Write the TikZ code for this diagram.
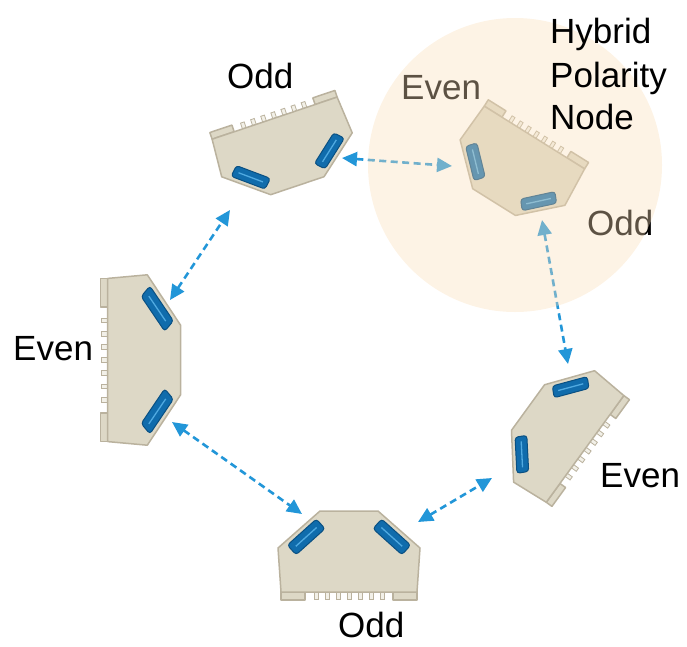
\documentclass[tikz,border=0pt]{standalone}
\usepackage{fontspec}
\setmainfont{Liberation Sans}
\usetikzlibrary{arrows.meta,calc}
\definecolor{modfill}{RGB}{221,216,198}
\definecolor{modedge}{RGB}{186,178,158}
\definecolor{pinfill}{RGB}{242,240,232}
\definecolor{padfill}{RGB}{16,108,172}
\definecolor{padedge}{RGB}{10,80,130}
\definecolor{padhi}{RGB}{80,170,225}
\definecolor{linkblue}{RGB}{34,150,216}
\definecolor{halo}{RGB}{250,222,184}
\tikzset{
  modbody/.style={fill=modfill, draw=modedge, line width=1.5pt, line join=round},
  modtooth/.style={fill=pinfill, draw=modedge, line width=0.8pt},
  padbox/.style={fill=padfill, draw=padedge, line width=1pt, rounded corners=3pt},
  padline/.style={draw=padhi, line width=1.3pt},
  link/.style={draw=linkblue, line width=2.6pt, dash pattern=on 7pt off 4.5pt,
    {Triangle[length=15pt,width=14pt]}-{Triangle[length=15pt,width=14pt]}},
  lbl/.style={inner sep=0pt, anchor=base west, font=\fontsize{35}{42}\selectfont},
  pics/module/.style={code={
    \draw[modbody] (-68,37) rectangle (-44,45);
    \draw[modbody] (44,37) rectangle (68,45);
    \foreach \i in {0,...,6} {\draw[modtooth] ({-35+11*\i},37) rectangle ({-31+11*\i},44);}
    \draw[modbody] (-29,-44) -- (29,-44) -- (71,-7) -- (68,37) -- (-68,37) -- (-71,-7) -- cycle;
    \begin{scope}[shift={(-42.8,-18.1)}, rotate=42]
      \draw[padbox] (-19.5,-6.5) rectangle (19.5,6.5);
      \draw[padline] (-14,0) -- (14,0);
    \end{scope}
    \begin{scope}[shift={(42.8,-18.1)}, rotate=-42]
      \draw[padbox] (-19.5,-6.5) rectangle (19.5,6.5);
      \draw[padline] (-14,0) -- (14,0);
    \end{scope}
  }}
}
\begin{document}
\begin{tikzpicture}[x=1pt,y=-1pt]
\useasboundingbox (0,0) rectangle (687,646);
% modules
\pic (modA) [shift={(285,149)}, rotate=198.6, xscale=0.97, yscale=0.88] {module};
\pic (modL) [shift={(141,360)}, rotate=-90, xscale=1.2, yscale=0.9] {module};
\pic (modB) [shift={(349,555)}] {module};
\pic (modR) [shift={(559,430)}, rotate=54, xscale=0.97, yscale=0.87] {module};
\pic (modH) [shift={(516,167)}, rotate=148, xscale=0.87, yscale=0.94] {module};
% connector end points
\coordinate (a1s) at (342,158); \coordinate (a1e) at (452,166);
\coordinate (a2s) at (542,220); \coordinate (a2e) at (568,364);
\coordinate (a3s) at (418,522); \coordinate (a3e) at (492,478);
\coordinate (a4s) at (172,422); \coordinate (a4e) at (302,514);
\coordinate (a5s) at (170,300); \coordinate (a5e) at (230,210);
\draw[link] (a1s) -- (a1e);
\draw[link] (a2s) -- (a2e);
\draw[link] (a3s) -- (a3e);
\draw[link] (a4s) -- (a4e);
\draw[link] (a5s) -- (a5e);
% labels
\node[lbl] (tA) at (227,88) {Odd};
\node[lbl] (tL) at (13,360) {Even};
\node[lbl] (tB) at (338,637) {Odd};
\node[lbl] (tR) at (600,487) {Even};
\node[lbl] (tHe) at (401,99) {Even};
\node[lbl] (tHo) at (587,235) {Odd};
% hybrid halo
\fill[halo, opacity=0.37] (515,165) circle[radius=147pt];
\node[lbl] (h1) at (550,43) {Hybrid};
\node[lbl] (h2) at (550,87) {Polarity};
\node[lbl] (h3) at (550,129) {Node};
\end{tikzpicture}
\end{document}
